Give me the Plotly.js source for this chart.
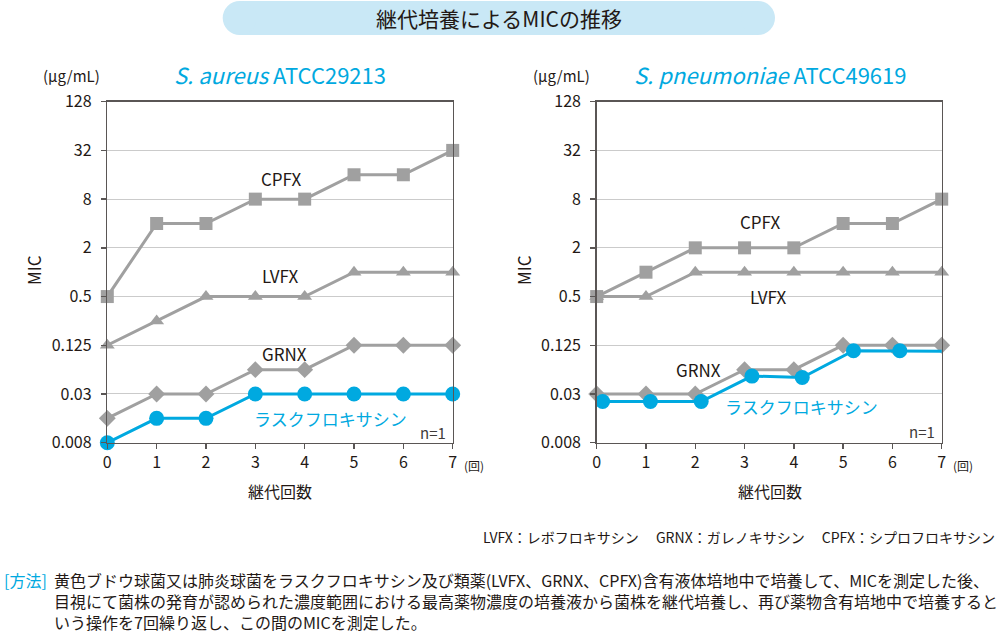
<!DOCTYPE html>
<html>
<head>
<meta charset="utf-8">
<script src="https://cdn.plot.ly/plotly-3.0.1.min.js"></script>
<style>html,body{margin:0;padding:0;background:#fff;}#chart{width:1000px;height:634px;}</style>
</head>
<body>
<div id="chart"></div>
<script>
// ---- data ----
const passages = [0, 1, 2, 3, 4, 5, 6, 7];
const xTickText = ['0', '1', '2', '3', '4', '5', '6', '7'];
const micTickVals = [0.0078125, 0.03125, 0.125, 0.5, 2, 8, 32, 128];
const micTickText = ['0.008', '0.03', '0.125', '0.5', '2', '8', '32', '128'];

// S. aureus ATCC29213
const saCPFX = [0.5, 4, 4, 8, 8, 16, 16, 32];
const saLVFX = [0.125, 0.25, 0.5, 0.5, 0.5, 1, 1, 1];
const saGRNX = [0.015625, 0.03125, 0.03125, 0.0625, 0.0625, 0.125, 0.125, 0.125];
const saLSFX = [0.0078125, 0.015625, 0.015625, 0.03125, 0.03125, 0.03125, 0.03125, 0.03125];

// S. pneumoniae ATCC49619
const spCPFX = [0.5, 1, 2, 2, 2, 4, 4, 8];
const spLVFX = [0.5, 0.5, 1, 1, 1, 1, 1, 1];
const spGRNX = [0.03125, 0.03125, 0.03125, 0.0625, 0.0625, 0.125, 0.125, 0.125];
// laskfloxacin points as drawn (slightly shifted in the original figure)
const spLSFXx = [0.12, 1.09, 2.12, 3.15, 4.17, 5.21, 6.15, 7.1];
const spLSFX = [0.0252, 0.0252, 0.0252, 0.052, 0.050, 0.107, 0.107, 0.105];

const drugNames = { CPFX: 'CPFX', LVFX: 'LVFX', GRNX: 'GRNX', LSFX: 'ラスクフロキサシン' };
const chartTitles = ['<i>S. aureus</i> ATCC29213', '<i>S. pneumoniae</i> ATCC49619'];
const mainTitle = '継代培養によるMICの推移';
const xTitle = '継代回数';
const yTitle = 'MIC';
const unitText = '(μg/mL)';
const footnote = 'LVFX：レボフロキサシン　 GRNX：ガレノキサシン　 CPFX：シプロフロキサシン';
const methodLabel = '[方法]';
const methodLines = [
  '黄色ブドウ球菌又は肺炎球菌をラスクフロキサシン及び類薬(LVFX、GRNX、CPFX)含有液体培地中で培養して、MICを測定した後、',
  '目視にて菌株の発育が認められた濃度範囲における最高薬物濃度の培養液から菌株を継代培養し、再び薬物含有培地中で培養すると',
  'いう操作を7回繰り返し、この間のMICを測定した。'
];

// ---- style ----
const FONT = '"Noto Sans CJK JP", "Noto Sans", sans-serif';
const DARK = '#231815';
const GRAY = '#a0a0a0';
const BLUE = '#00a9e0';
const FRAME = '#5a5655';
const W = 1000, H = 634;
const px = x => x / W;
const py = y => 1 - y / H;

function grayTrace(x, y, sym, size, xa, ya) {
  return { x: x, y: y, xaxis: xa, yaxis: ya, type: 'scatter', mode: 'lines+markers',
    cliponaxis: false, hoverinfo: 'skip',
    line: { color: GRAY, width: 3 },
    marker: { symbol: sym, size: size, color: GRAY } };
}
function blueTrace(x, y, xa, ya) {
  return { x: x, y: y, xaxis: xa, yaxis: ya, type: 'scatter', mode: 'lines+markers',
    cliponaxis: false, hoverinfo: 'skip',
    line: { color: BLUE, width: 3 },
    marker: { symbol: 'circle', size: 15, color: BLUE } };
}

const data = [
  grayTrace(passages, saCPFX, 'square', 13, 'x', 'y'),
  grayTrace(passages, saLVFX, 'triangle-up', 13, 'x', 'y'),
  grayTrace(passages, saGRNX, 'diamond', 13, 'x', 'y'),
  blueTrace(passages, saLSFX, 'x', 'y'),
  grayTrace(passages, spCPFX, 'square', 13, 'x2', 'y2'),
  grayTrace(passages, spLVFX, 'triangle-up', 13, 'x2', 'y2'),
  grayTrace(passages, spGRNX, 'diamond', 13, 'x2', 'y2'),
  blueTrace(spLSFXx, spLSFX, 'x2', 'y2')
];

const yRange = [Math.log10(micTickVals[0]), Math.log10(micTickVals[micTickVals.length - 1])];
function xAxis(domain, anchor) {
  return { domain: domain, anchor: anchor, range: [0, 7], tickvals: passages, ticktext: xTickText,
    showline: true, linecolor: FRAME, linewidth: 1.5, mirror: true,
    ticks: 'outside', ticklen: 5, tickwidth: 1.5, tickcolor: FRAME,
    showgrid: false, zeroline: false, fixedrange: true,
    tickfont: { family: FONT, size: 16, color: DARK } };
}
function yAxis(anchor) {
  return { domain: [py(442.7), py(101.7)], anchor: anchor, type: 'log', range: yRange,
    tickvals: micTickVals, ticktext: micTickText,
    showline: true, linecolor: FRAME, linewidth: 1.5, mirror: true,
    ticks: 'outside', ticklen: 5, tickwidth: 1.5, tickcolor: FRAME,
    ticklabelstandoff: 6,
    showgrid: true, gridcolor: '#cbcbcb', gridwidth: 1, zeroline: false, fixedrange: true,
    tickfont: { family: FONT, size: 16, color: DARK } };
}

function ann(text, x, y, size, color, opts) {
  return Object.assign({ text: text, x: px(x), y: py(y), xref: 'paper', yref: 'paper',
    showarrow: false, xanchor: 'center', yanchor: 'middle',
    font: { family: FONT, size: size, color: color } }, opts || {});
}

const annotations = [
  ann(mainTitle, 498.5, 18, 21, DARK),
  // left chart
  ann(chartTitles[0], 280, 74, 22, BLUE),
  ann(unitText, 102, 75, 15, DARK, { xanchor: 'right' }),
  ann(yTitle, 33, 270, 17, DARK, { textangle: -90 }),
  ann(xTitle, 280, 491, 16, DARK),
  ann('(回)', 462, 465, 12, DARK, { xanchor: 'left' }),
  ann(drugNames.CPFX, 281, 178, 17, DARK),
  ann(drugNames.LVFX, 280, 275, 17, DARK),
  ann(drugNames.GRNX, 284, 353, 17, DARK),
  ann(drugNames.LSFX, 330, 418, 17, BLUE),
  ann('n=1', 448, 432, 15, '#3e3a39', { xanchor: 'right' }),
  // right chart
  ann(chartTitles[1], 770, 74, 22, BLUE),
  ann(unitText, 592, 75, 15, DARK, { xanchor: 'right' }),
  ann(yTitle, 523, 270, 17, DARK, { textangle: -90 }),
  ann(xTitle, 769.5, 491, 16, DARK),
  ann('(回)', 951, 465, 12, DARK, { xanchor: 'left' }),
  ann(drugNames.CPFX, 760, 221, 17, DARK),
  ann(drugNames.LVFX, 768, 296, 17, DARK),
  ann(drugNames.GRNX, 698, 369, 17, DARK),
  ann(drugNames.LSFX, 801, 406, 17, BLUE),
  ann('n=1', 937, 431, 15, '#3e3a39', { xanchor: 'right' }),
  // footer
  ann(footnote, 997, 537, 14, DARK, { xanchor: 'right' }),
  ann(methodLabel, 2, 580, 16, BLUE, { xanchor: 'left' }),
  ann(methodLines.join('<br>'), 52, 600.5, 16, DARK, { xanchor: 'left', align: 'left' })
];

const BANNER = '#c9e8f6';
const shapes = [
  { type: 'rect', xref: 'paper', yref: 'paper', x0: px(239.7), x1: px(758), y0: py(35), y1: py(1),
    fillcolor: BANNER, line: { width: 0 }, layer: 'below' },
  { type: 'circle', xref: 'paper', yref: 'paper', x0: px(222.7), x1: px(256.7), y0: py(35), y1: py(1),
    fillcolor: BANNER, line: { width: 0 }, layer: 'below' },
  { type: 'circle', xref: 'paper', yref: 'paper', x0: px(741), x1: px(775), y0: py(35), y1: py(1),
    fillcolor: BANNER, line: { width: 0 }, layer: 'below' }
];

const layout = {
  width: W, height: H, margin: { l: 0, r: 0, t: 0, b: 0 },
  paper_bgcolor: '#ffffff', plot_bgcolor: '#ffffff', showlegend: false,
  font: { family: FONT, color: DARK },
  xaxis: xAxis([px(107.3), px(452.7)], 'y'),
  yaxis: yAxis('x'),
  xaxis2: xAxis([px(596.7), px(941.7)], 'y2'),
  yaxis2: yAxis('x2'),
  annotations: annotations,
  shapes: shapes
};

Plotly.newPlot('chart', data, layout, { displayModeBar: false, staticPlot: true });
</script>
</body>
</html>
